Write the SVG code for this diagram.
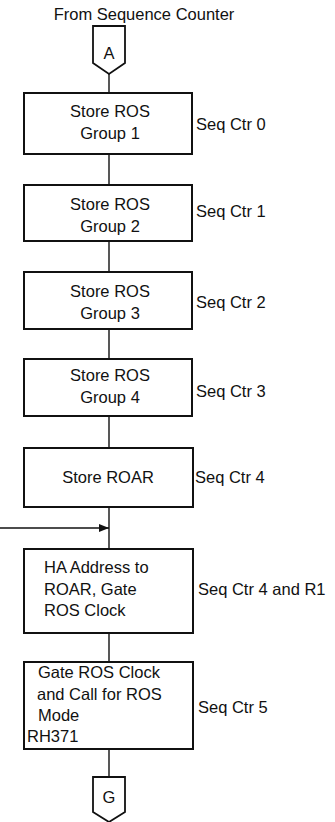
<svg xmlns="http://www.w3.org/2000/svg" width="335" height="822" viewBox="0 0 335 822">
<style>
text{font-family:"Liberation Sans",Arial,sans-serif;font-size:16.5px;fill:#111}
.c{text-anchor:middle}
.box{fill:#fff;stroke:#111;stroke-width:2}
.off{fill:#fff;stroke:#111;stroke-width:1.8}
.ln{stroke:#111;stroke-width:1.4;fill:none}
</style>
<defs>
<marker id="ah" markerWidth="10" markerHeight="8" refX="10" refY="4" orient="auto" markerUnits="userSpaceOnUse">
<path d="M0,0 L10,4 L0,8 Z" fill="#111"/>
</marker>
</defs>
<text class="c" x="144" y="20">From Sequence Counter</text>
<g id="connectors">
<line class="ln" x1="109" y1="74" x2="109" y2="93"/>
<line class="ln" x1="109" y1="154" x2="109" y2="185"/>
<line class="ln" x1="109" y1="241" x2="109" y2="272"/>
<line class="ln" x1="109" y1="329" x2="109" y2="359"/>
<line class="ln" x1="109" y1="416" x2="109" y2="448"/>
<line class="ln" x1="109" y1="507" x2="109" y2="549"/>
<line class="ln" x1="0" y1="528" x2="109" y2="528" marker-end="url(#ah)"/>
<line class="ln" x1="109" y1="633" x2="109" y2="662"/>
<line class="ln" x1="109" y1="749" x2="109" y2="777"/>
</g>
<g id="offA">
<polygon class="off" points="93,26 125,26 125,63 109,74 93,63"/>
<text class="c" x="109" y="59">A</text>
</g>
<g id="n1">
<rect class="box" x="24" y="93" width="168" height="61"/>
<text class="c" x="110" y="117">Store ROS</text>
<text class="c" x="110" y="139">Group 1</text>
<text x="196" y="130">Seq Ctr 0</text>
</g>
<g id="n2">
<rect class="box" x="24" y="185" width="168" height="56"/>
<text class="c" x="110" y="210">Store ROS</text>
<text class="c" x="110" y="232">Group 2</text>
<text x="196" y="217">Seq Ctr 1</text>
</g>
<g id="n3">
<rect class="box" x="24" y="272" width="168" height="57"/>
<text class="c" x="110" y="297">Store ROS</text>
<text class="c" x="110" y="319">Group 3</text>
<text x="196" y="308">Seq Ctr 2</text>
</g>
<g id="n4">
<rect class="box" x="24" y="359" width="168" height="57"/>
<text class="c" x="110" y="381">Store ROS</text>
<text class="c" x="110" y="403">Group 4</text>
<text x="196" y="397">Seq Ctr 3</text>
</g>
<g id="n5">
<rect class="box" x="24" y="448" width="169" height="59"/>
<text class="c" x="108" y="483">Store ROAR</text>
<text x="195" y="483">Seq Ctr 4</text>
</g>
<g id="n6">
<rect class="box" x="24" y="549" width="169" height="84"/>
<text x="44" y="573">HA Address to</text>
<text x="44" y="595">ROAR, Gate</text>
<text x="44" y="616">ROS Clock</text>
<text x="198" y="595">Seq Ctr 4 and R1</text>
</g>
<g id="n7">
<rect class="box" x="24" y="662" width="169" height="87"/>
<text x="38" y="678">Gate ROS Clock</text>
<text x="37" y="700">and Call for ROS</text>
<text x="38" y="721">Mode</text>
<text x="27" y="742">RH371</text>
<text x="198" y="713">Seq Ctr 5</text>
</g>
<g id="offG">
<polygon class="off" points="93,777 125,777 125,812 109,822 93,812"/>
<text class="c" x="109" y="803">G</text>
</g>
</svg>
